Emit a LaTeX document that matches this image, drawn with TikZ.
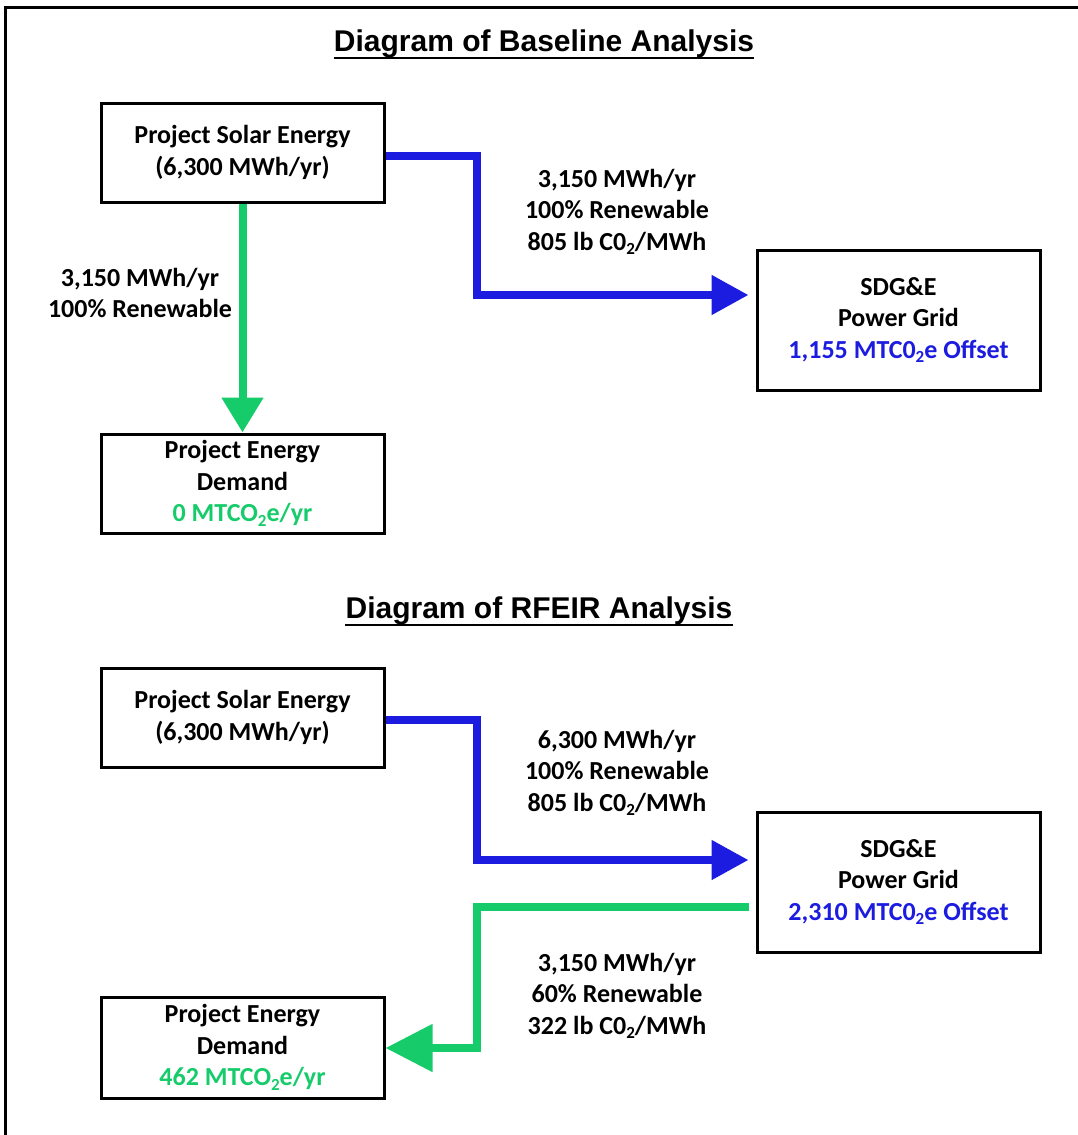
\documentclass[tikz,border=0pt]{standalone}
\usepackage{fontspec}
\setmainfont{Carlito}
\newfontfamily\titlefont{Liberation Sans}
\usetikzlibrary{arrows.meta}
\definecolor{fblue}{RGB}{28,28,224}
\definecolor{fgreen}{RGB}{22,204,106}
\newcommand\subtwo{\raisebox{-0.18em}{\fontsize{17}{17}\selectfont 2}}
\begin{document}
\begin{tikzpicture}[x=1pt,y=-1pt,
 box/.style={draw,line width=3pt,minimum width=283pt,inner sep=0pt,align=center,font=\bfseries\fontsize{26}{31.5}\selectfont},
 lbl/.style={align=center,font=\bfseries\fontsize{26}{31.5}\selectfont,inner sep=0pt},
 ttl/.style={font=\titlefont\bfseries\fontsize{30}{36}\selectfont,inner sep=0pt},
 flow/.style={line width=8pt,line join=miter},
 bflow/.style={flow,draw=fblue,-{Triangle[width=38pt,length=37pt]}},
 gflow/.style={flow,draw=fgreen,-{Triangle[width=40pt,length=35pt]}},
 gflowbig/.style={flow,draw=fgreen,-{Triangle[width=46pt,length=47pt]}}
]
\useasboundingbox (0,0) rectangle (1078,1135);
% frame
\draw[line width=3pt] (1078,7.5) -- (5.5,7.5) -- (5.5,1135);

% titles
\node[ttl] (T1) at (544,44) {Diagram of Baseline Analysis};
\draw[line width=2pt] ([yshift=-6pt]T1.base west) -- ([yshift=-6pt]T1.base east);
\node[ttl] (T2) at (539,611) {Diagram of RFEIR Analysis};
\draw[line width=2pt] ([yshift=-6pt]T2.base west) -- ([yshift=-6pt]T2.base east);

% baseline boxes
\node[box,minimum height=99pt] (A1) at (242.5,152.5) {Project Solar Energy\\(6,300 MWh/yr)};
\node[box,minimum height=140pt] (G1) at (898.5,320) {SDG\&E\\Power Grid\\{\color{fblue}1,155 MTC0\subtwo e Offset}};
\node[box,minimum height=99pt] (A2) at (242.5,483.5) {Project Energy\\Demand\\{\color{fgreen}0 MTCO\subtwo e/yr}};

% baseline flows
\coordinate (b1a) at (477,156);
\coordinate (b1b) at (477,295);
\draw[bflow,shorten >=7pt] (A1.east |- b1a) -- (b1a) -- (b1b) -- (G1.west |- b1b);
\draw[gflow] (A1.south) -- (A2.north);

\node[lbl] (L1) at (617,212) {3,150 MWh/yr\\100\% Renewable\\805 lb C0\subtwo/MWh};
\node[lbl] (L2) at (140,293) {3,150 MWh/yr\\100\% Renewable};

% RFEIR boxes
\node[box,minimum height=99pt] (B1) at (242.5,717.5) {Project Solar Energy\\(6,300 MWh/yr)};
\node[box,minimum height=140pt] (G2) at (898.5,882) {SDG\&E\\Power Grid\\{\color{fblue}2,310 MTC0\subtwo e Offset}};
\node[box,minimum height=101pt] (B3) at (242.5,1047.5) {Project Energy\\Demand\\{\color{fgreen}462 MTCO\subtwo e/yr}};

% RFEIR flows
\coordinate (b2a) at (477,720);
\coordinate (b2b) at (477,860);
\draw[bflow,shorten >=7pt] (B1.east |- b2a) -- (b2a) -- (b2b) -- (G2.west |- b2b);
\coordinate (g2s) at (750,907);
\coordinate (g2a) at (477,907);
\coordinate (g2b) at (477,1048);
\draw[gflowbig,shorten <=7pt] (G2.west |- g2s) -- (g2a) -- (g2b) -- (B3.east |- g2b);

\node[lbl] (L3) at (617,773) {6,300 MWh/yr\\100\% Renewable\\805 lb C0\subtwo/MWh};
\node[lbl] (L4) at (617,996) {3,150 MWh/yr\\60\% Renewable\\322 lb C0\subtwo/MWh};
\end{tikzpicture}
\end{document}
